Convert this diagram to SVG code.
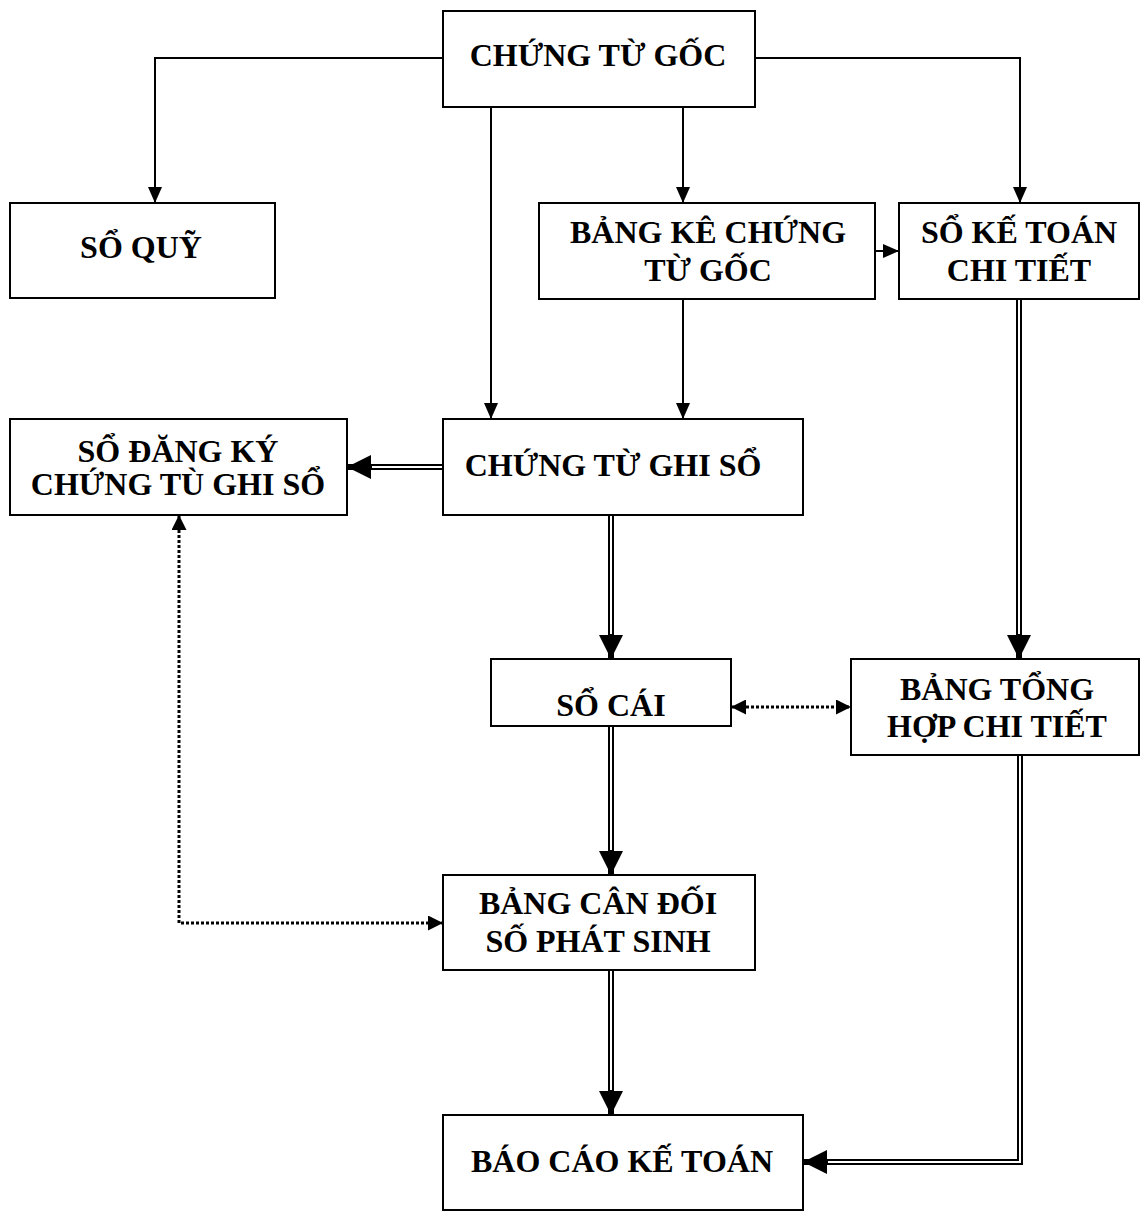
<svg xmlns="http://www.w3.org/2000/svg" width="1145" height="1214" viewBox="0 0 1145 1214">
<style>
.box{fill:#fff;stroke:#000;stroke-width:2}
.s{fill:none;stroke:#000;stroke-width:2}
.dbo{fill:none;stroke:#000;stroke-width:6}
.dbi{fill:none;stroke:#fff;stroke-width:2}
.dot{fill:none;stroke:#000;stroke-width:3;stroke-dasharray:3 2}
</style>
<defs>
<marker id="a" markerUnits="userSpaceOnUse" markerWidth="16" markerHeight="14" refX="16" refY="7" orient="auto"><path d="M0,0 L16,7 L0,14 z" fill="#000"/></marker>
<marker id="b" markerUnits="userSpaceOnUse" markerWidth="24" markerHeight="24" refX="24" refY="12" orient="auto"><path d="M0,0 L24,12 L0,24 z" fill="#000"/></marker>
<marker id="c" markerUnits="userSpaceOnUse" markerWidth="15" markerHeight="15" refX="15" refY="7.5" orient="auto-start-reverse"><path d="M0,0 L15,7.5 L0,15 z" fill="#000"/></marker>
</defs>
<rect width="1145" height="1214" fill="#fff"/>
<g id="connectors">
<path class="s" d="M443,58 H155 V203" marker-end="url(#a)"/>
<path class="s" d="M755,58 H1020 V203" marker-end="url(#a)"/>
<path class="s" d="M491,107 V419" marker-end="url(#a)"/>
<path class="s" d="M683,107 V203" marker-end="url(#a)"/>
<path class="s" d="M683,299 V419" marker-end="url(#a)"/>
<path class="s" d="M875,251 H899" marker-end="url(#a)"/>
<path class="dbo" d="M443,467 H347" marker-end="url(#b)"/>
<path class="dbi" d="M443,467 H372"/>
<path class="dbo" d="M611,515 V659" marker-end="url(#b)"/>
<path class="dbi" d="M611,515 V634"/>
<path class="dbo" d="M1019,299 V659" marker-end="url(#b)"/>
<path class="dbi" d="M1019,299 V634"/>
<path class="dbo" d="M611,726 V875" marker-end="url(#b)"/>
<path class="dbi" d="M611,726 V850"/>
<path class="dbo" d="M611,970 V1115" marker-end="url(#b)"/>
<path class="dbi" d="M611,970 V1090"/>
<path class="dbo" d="M1020,755 V1162 H803" marker-end="url(#b)"/>
<path class="dbi" d="M1020,755 V1162 H828"/>
<path class="dot" d="M179,515 V923 H443" marker-start="url(#c)" marker-end="url(#c)"/>
<path class="dot" d="M731,707 H851" marker-start="url(#c)" marker-end="url(#c)"/>
</g>
<g font-family="Liberation Serif, Times New Roman, serif" font-weight="700" font-size="32" text-anchor="middle" fill="#000">
<g id="n1"><rect class="box" x="443" y="11" width="312" height="96"/><text x="598" y="66">CHỨNG TỪ GỐC</text></g>
<g id="n2"><rect class="box" x="10" y="203" width="265" height="95"/><text x="141" y="258">SỔ QUỸ</text></g>
<g id="n3"><rect class="box" x="539" y="203" width="336" height="96"/><text x="708" y="243">BẢNG KÊ CHỨNG</text><text x="708" y="281">TỪ GỐC</text></g>
<g id="n4"><rect class="box" x="899" y="203" width="240" height="96"/><text x="1019" y="243">SỔ KẾ TOÁN</text><text x="1019" y="281">CHI TIẾT</text></g>
<g id="n5"><rect class="box" x="10" y="419" width="337" height="96"/><text x="178" y="462">SỔ ĐĂNG KÝ</text><text x="178" y="495">CHỨNG TÙ GHI SỔ</text></g>
<g id="n6"><rect class="box" x="443" y="419" width="360" height="96"/><text x="613" y="476">CHỨNG TỪ GHI SỔ</text></g>
<g id="n7"><rect class="box" x="491" y="659" width="240" height="67"/><text x="611" y="716">SỔ CÁI</text></g>
<g id="n8"><rect class="box" x="851" y="659" width="288" height="96"/><text x="997" y="700">BẢNG TỔNG</text><text x="997" y="737">HỢP CHI TIẾT</text></g>
<g id="n9"><rect class="box" x="443" y="875" width="312" height="95"/><text x="598" y="914">BẢNG CÂN ĐỐI</text><text x="598" y="952">SỐ PHÁT SINH</text></g>
<g id="n10"><rect class="box" x="443" y="1115" width="360" height="95"/><text x="622" y="1172">BÁO CÁO KẾ TOÁN</text></g>
</g>
</svg>
